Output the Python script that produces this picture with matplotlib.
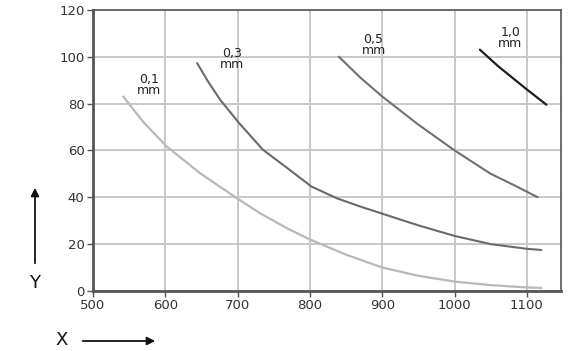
import matplotlib
matplotlib.use("Agg")
import matplotlib.pyplot as plt

x_01 = [542, 570, 602, 648, 699, 731, 770, 800, 850, 900, 950, 1000, 1050, 1100, 1120]
y_01 = [83, 72, 61.7, 50.3, 39.6, 33.2, 26.5, 22, 15.5, 10, 6.5, 4, 2.5, 1.5, 1.3]
x_03 = [644, 660, 676, 702, 735, 772, 802, 837, 870, 900, 950, 1000, 1050, 1100, 1120]
y_03 = [97.3, 89, 81.6, 71.7, 60.3, 51.7, 44.6, 39.6, 36, 33, 28, 23.5, 20, 18, 17.5]
x_05 = [840, 870, 900, 950, 1000, 1050, 1080, 1115]
y_05 = [100, 91, 83, 71, 60, 50, 45.5, 40]
x_10 = [1035, 1060, 1080, 1100, 1127]
y_10 = [103, 96, 91, 86, 79.5]
labels = ["0,1\nmm", "0,3\nmm", "0,5\nmm", "1,0\nmm"]
label_pos = [(578, 88), (692, 99), (888, 105), (1077, 108)]
x_ticks = [500, 600, 700, 800, 900, 1000, 1100]
y_ticks = [0, 20, 40, 60, 80, 100, 120]

fig = plt.figure(figsize=(5.70, 3.51), dpi=100)
ax = fig.add_axes([0.163, 0.171, 0.821, 0.801])
ax.set_xlim(500, 1147)
ax.set_ylim(0, 120)
ax.set_xticks(x_ticks)
ax.set_yticks(y_ticks)
ax.grid(True, color="#c8c8c8", lw=1.4)
ax.set_axisbelow(True)
for s in ax.spines.values():
    s.set_color("#555555")
    s.set_linewidth(1.2)
ax.spines["left"].set_linewidth(2.0)
ax.spines["bottom"].set_linewidth(2.0)
ax.tick_params(direction="out", length=4, width=1, color="#555555",
               labelsize=9.5, labelcolor="#333333", pad=2)

series = [(x_01, y_01, "#b8b8b8", 1.6), (x_03, y_03, "#6a6a6a", 1.5),
          (x_05, y_05, "#707070", 1.5), (x_10, y_10, "#1e1e1e", 1.6)]
for xs, ys, c, lw in series:
    ax.plot(xs, ys, color=c, lw=lw, solid_capstyle="round", solid_joinstyle="round")

for lab, (lx, ly) in zip(labels, label_pos):
    ax.text(lx, ly, lab, ha="center", va="center", fontsize=9,
            color="#222222", linespacing=0.85)

# axis arrows
fig.text(35 / 570, 1 - 283 / 351, "Y", ha="center", va="center", fontsize=13, color="#111111")
fig.text(62 / 570, 1 - 340 / 351, "X", ha="center", va="center", fontsize=13, color="#111111")
fig.patches.append(matplotlib.patches.FancyArrowPatch(
    (35 / 570, 1 - 266 / 351), (35 / 570, 1 - 185 / 351), transform=fig.transFigure,
    arrowstyle="-|>", mutation_scale=12, color="#111111", lw=1.3))
fig.patches.append(matplotlib.patches.FancyArrowPatch(
    (80 / 570, 1 - 341 / 351), (158 / 570, 1 - 341 / 351), transform=fig.transFigure,
    arrowstyle="-|>", mutation_scale=12, color="#111111", lw=1.3))

fig.savefig("out.png", dpi=100)
